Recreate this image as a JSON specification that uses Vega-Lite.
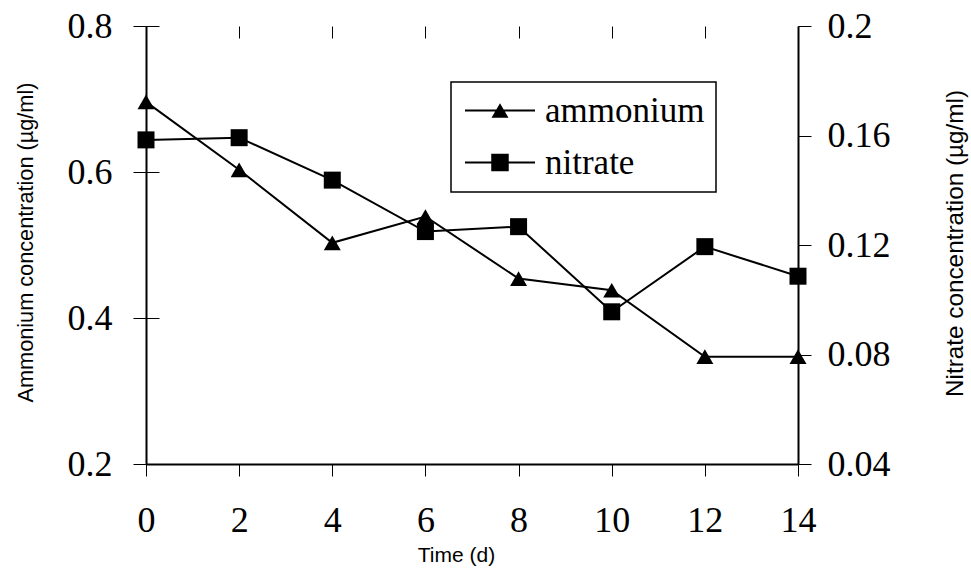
{
  "$schema": "https://vega.github.io/schema/vega-lite/v6.json",
  "width": 652,
  "height": 438,
  "autosize": "none",
  "padding": {"left": 146, "top": 26, "right": 173, "bottom": 104},
  "background": "white",
  "config": {
    "view": {"stroke": null},
    "axis": {
      "domainColor": "black",
      "domainWidth": 2,
      "tickColor": "black",
      "tickWidth": 1,
      "labelFont": "Liberation Serif",
      "labelFontSize": 36,
      "labelColor": "black",
      "titleColor": "black",
      "titleFont": "Liberation Sans",
      "titleFontWeight": "normal",
      "grid": true,
      "gridColor": "black",
      "gridOpacity": 1,
      "gridWidth": 1,
      "gridDash": [13, 3000]
    },
    "legend": {"strokeWidth": 1.5}
  },
  "data": {
    "values": [
      {"day": 0, "ammonium": 0.696, "nitrate": 0.1584},
      {"day": 2, "ammonium": 0.603, "nitrate": 0.1592},
      {"day": 4, "ammonium": 0.503, "nitrate": 0.1437},
      {"day": 6, "ammonium": 0.539, "nitrate": 0.1249},
      {"day": 8, "ammonium": 0.454, "nitrate": 0.1267},
      {"day": 10, "ammonium": 0.438, "nitrate": 0.0956},
      {"day": 12, "ammonium": 0.347, "nitrate": 0.1194},
      {"day": 14, "ammonium": 0.347, "nitrate": 0.1086}
    ]
  },
  "encoding": {
    "x": {
      "field": "day",
      "type": "quantitative",
      "scale": {"domain": [0, 14], "nice": false, "zero": false},
      "axis": {
        "values": [0, 2, 4, 6, 8, 10, 12, 14],
        "title": "Time (d)",
        "tickSize": 12,
        "labelPadding": 27,
        "labelFlush": false,
        "titleFontSize": 21,
        "titleX": 310,
        "titleY": 97,
        "titleBaseline": "alphabetic",
        "gridDash": [12, 3000]
      }
    }
  },
  "layer": [
    {
      "encoding": {
        "y": {
          "field": "ammonium",
          "type": "quantitative",
          "scale": {"domain": [0.2, 0.8], "nice": false, "zero": false},
          "axis": {
            "orient": "left",
            "values": [0.2, 0.4, 0.6, 0.8],
            "format": ".1f",
            "title": "Ammonium concentration (µg/ml)",
            "tickSize": 13,
            "labelPadding": 21,
            "titleFontSize": 21.7,
            "titleAngle": -90,
            "titleX": -113.5,
            "titleY": 216,
            "titleAlign": "center",
            "titleBaseline": "alphabetic"
          }
        }
      },
      "layer": [
        {"mark": {"type": "line", "color": "black", "strokeWidth": 2}},
        {"mark": {"type": "point", "shape": "triangle-up", "filled": true, "opacity": 1, "color": "black", "size": 289}},
        {
          "mark": {"type": "point", "filled": false, "opacity": 0, "fill": "black", "stroke": "black", "strokeWidth": 2, "size": 1225},
          "encoding": {
            "shape": {
              "datum": "ammonium",
              "type": "nominal",
              "scale": {
                "domain": ["ammonium", "nitrate"],
                "range": [
                  "M-0.829,-0.057L3.171,-0.057L3.171,0.057L-0.829,0.057ZM1.171,-0.42L1.657,0.42L0.686,0.42Z",
                  "M-0.829,-0.057L3.171,-0.057L3.171,0.057L-0.829,0.057ZM0.671,-0.5L1.671,-0.5L1.671,0.5L0.671,0.5Z"
                ]
              },
              "legend": {
                "orient": "none",
                "legendX": 305,
                "legendY": 56,
                "title": null,
                "symbolSize": 1225,
                "labelFont": "Liberation Serif",
                "labelFontSize": 35,
                "labelColor": "black",
                "labelOffset": 48,
                "padding": 11,
                "rowPadding": 16,
                "strokeColor": "black",
                "fillColor": "white",
                "symbolStrokeWidth": 0,
                "symbolFillColor": "black",
                "symbolOpacity": 1
              }
            }
          }
        }
      ]
    },
    {
      "encoding": {
        "y": {
          "field": "nitrate",
          "type": "quantitative",
          "scale": {"domain": [0.04, 0.2], "nice": false, "zero": false},
          "axis": {
            "orient": "right",
            "values": [0.04, 0.08, 0.12, 0.16, 0.2],
            "format": "~g",
            "title": "Nitrate concentration (µg/ml)",
            "tickSize": 13,
            "labelPadding": 16,
            "titleFontSize": 24.3,
            "titleAngle": -90,
            "titleX": 164,
            "titleY": 217,
            "titleAlign": "center",
            "titleBaseline": "alphabetic"
          }
        }
      },
      "layer": [
        {"mark": {"type": "line", "color": "black", "strokeWidth": 2}},
        {"mark": {"type": "point", "shape": "square", "filled": true, "opacity": 1, "color": "black", "size": 289}},
        {
          "mark": {"type": "point", "filled": false, "opacity": 0, "fill": "black", "stroke": "black", "strokeWidth": 2, "size": 1225},
          "encoding": {
            "shape": {"datum": "nitrate", "type": "nominal"}
          }
        }
      ]
    }
  ],
  "resolve": {"scale": {"y": "independent"}}
}
